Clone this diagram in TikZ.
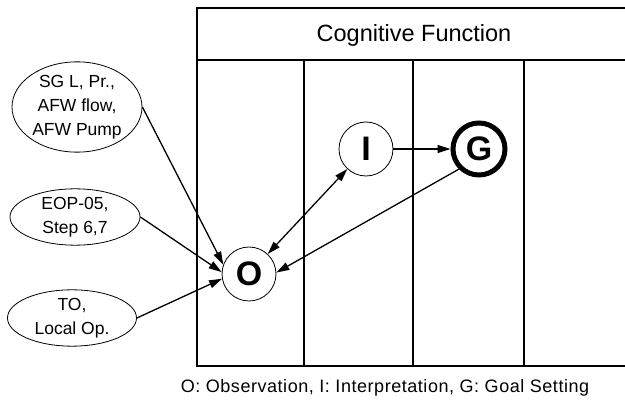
\documentclass[tikz,border=0pt]{standalone}
\usepackage{fontspec}
\setmainfont{Liberation Sans}
\usetikzlibrary{shapes.geometric,arrows.meta}
\begin{document}
\begin{tikzpicture}[x=1pt,y=-1pt,
  frame/.style={line width=1.2pt},
  src/.style={ellipse,draw,line width=0.8pt,inner sep=0pt,align=center,
    font=\fontsize{17.5}{24}\selectfont},
  cf/.style={circle,draw,line width=0.8pt,minimum size=54pt,inner sep=0pt,
    font=\fontsize{34}{34}\selectfont\bfseries},
  arr/.style={line width=1.3pt,-{Triangle[length=13pt,width=8pt]}},
  darr/.style={line width=1.3pt,{Triangle[length=13pt,width=8pt]}-{Triangle[length=13pt,width=8pt]}}]
\useasboundingbox (0,0) rectangle (625,406);
\clip (0,0) rectangle (625,406);
% table frame
\draw[frame] (640,8) -- (197,8) -- (197,366) -- (640,366);
\draw[frame] (197,60) -- (640,60);
\draw[frame] (304,60) -- (304,366);
\draw[frame] (413,60) -- (413,366);
\draw[frame] (524,60) -- (524,366);
\node[font=\fontsize{23.5}{23.5}\selectfont] (hdr) at (414,35) {Cognitive Function};
% cognitive function nodes
\node[cf] (O) at (249,274) {O};
\node[cf] (I) at (366,149) {I};
\node[cf,line width=5pt,minimum size=52pt] (G) at (479,149) {G};
% sources
\node[src,minimum width=130pt,minimum height=80pt] (SG) at (77,107) {SG L, Pr.,\\AFW flow,\\AFW Pump};
\node[src,minimum width=130pt,minimum height=55pt] (EOP) at (75,217) {EOP-05,\\Step 6,7};
\node[src,minimum width=129pt,minimum height=50pt] (TO) at (72,318) {TO,\\Local Op.};
% connectors
\draw[arr] (SG.east) -- (O.160);
\draw[arr] (EOP.east) -- (O.176);
\draw[arr] (TO.east) -- (O.190);
\draw[darr] (O) -- (I);
\draw[arr] (I) -- (G);
\draw[arr] (G.225) -- (O.3);
% caption
\node[font=\fontsize{18}{18}\selectfont\addfontfeatures{LetterSpace=3}] (cap) at (385,388) {O: Observation, I: Interpretation, G: Goal Setting};
\end{tikzpicture}
\end{document}
